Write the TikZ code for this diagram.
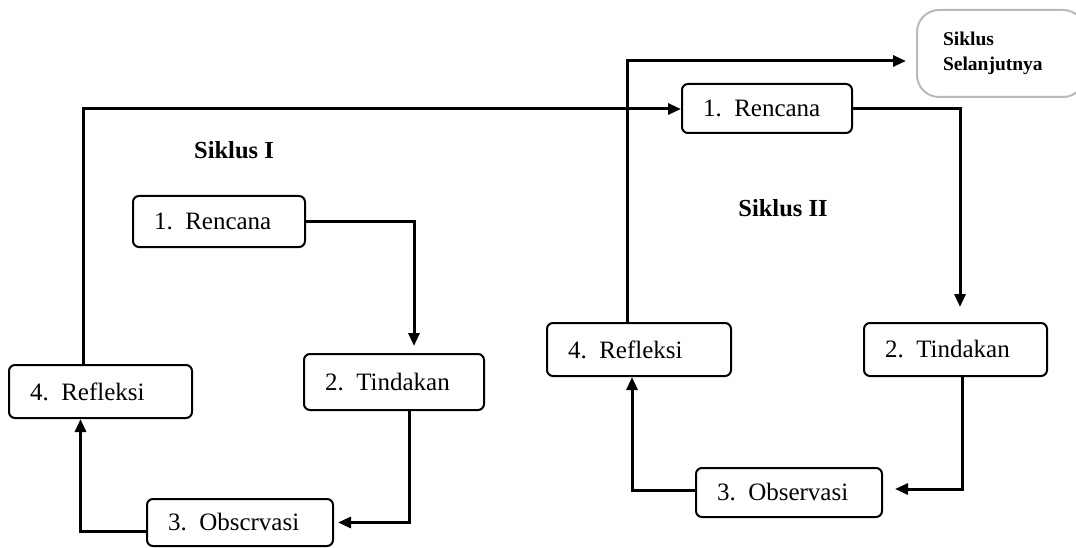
\documentclass[tikz,border=0pt]{standalone}
\usepackage{fontspec}
\setmainfont{Liberation Serif}
\usetikzlibrary{arrows.meta,calc}
\begin{document}
\begin{tikzpicture}[x=1pt,y=-1pt,
  stagebox/.style={draw, line width=2pt, rounded corners=6pt, inner xsep=21pt, inner ysep=0pt,
    align=left, font=\fontsize{25}{30}\selectfont},
  flow/.style={line width=3pt, -{Triangle[length=13pt,width=11pt]}},
  cyclelabel/.style={font=\bfseries\fontsize{24.5}{28}\selectfont},
  nextbox/.style={draw=gray!55, line width=2pt, rounded corners=22pt, inner xsep=26pt, inner ysep=0pt,
    align=left, font=\bfseries\fontsize{19.5}{25}\selectfont}]
\useasboundingbox (0,0) rectangle (1076,548);

% Siklus I
\node[cyclelabel] (s1) at (234,150) {Siklus I};
\node[stagebox, text width=130pt, minimum height=51pt] (r1) at (219,221.5) {\mbox{1.\hspace{0.5em}Rencana}};
\node[stagebox, text width=138pt, minimum height=56pt] (t1) at (394,382) {\mbox{2.\hspace{0.5em}Tindakan}};
\node[stagebox, text width=141pt, minimum height=53pt] (f1) at (100.5,391.5) {\mbox{4.\hspace{0.5em}Refleksi}};
\node[stagebox, text width=144pt, minimum height=47pt] (o1) at (240,522.5) {\mbox{3.\hspace{0.5em}Obscrvasi}};

% Siklus II
\node[cyclelabel] (s2) at (783,208) {Siklus II};
\node[stagebox, text width=128pt, minimum height=49pt] (r2) at (767,108.5) {\mbox{1.\hspace{0.5em}Rencana}};
\node[stagebox, text width=142pt, minimum height=53pt] (f2) at (639,349.5) {\mbox{4.\hspace{0.5em}Refleksi}};
\node[stagebox, text width=141pt, minimum height=53pt] (t2) at (955.5,349.5) {\mbox{2.\hspace{0.5em}Tindakan}};
\node[stagebox, text width=144pt, minimum height=49pt] (o2) at (789,492.5) {\mbox{3.\hspace{0.5em}Observasi}};

\node[nextbox, text width=116pt, minimum height=87pt] (next) at (1001,53.5) {Siklus\\Selanjutnya};

% connectors, cycle I
\draw[flow, shorten >=7pt] (r1.east) -| ($(t1.north)+(20,0)$);
\draw[flow, shorten >=4pt] ($(t1.south)+(15,0)$) |- (o1.east);
\draw[flow] ($(o1.west)+(0,9)$) -| ($(f1.south)+(-20,0)$);
\draw[flow] ($(f1.north)+(-17,0)$) |- ($(r2.west)+(0,0.5)$);

% connectors, cycle II
\draw[flow, shorten >=15pt] ($(r2.east)+(0,0.5)$) -| ($(t2.north)+(4.5,0)$);
\draw[flow, shorten >=12pt] ($(t2.south)+(6.5,0)$) |- ($(o2.east)+(0,-3.5)$);
\draw[flow] ($(o2.west)+(0,-2.5)$) -| ($(f2.south)+(-7,0)$);
\draw[flow, shorten >=10pt] ($(f2.north)+(-12,0)$) |- ($(next.west)+(0,7.5)$);
\end{tikzpicture}
\end{document}
